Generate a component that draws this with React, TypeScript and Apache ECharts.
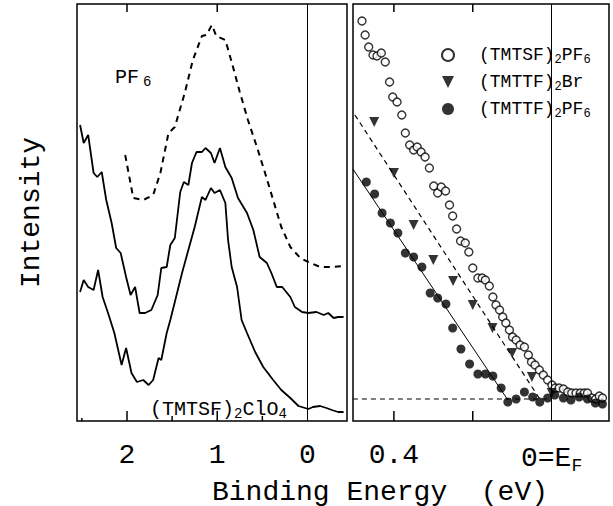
import React, { useEffect, useRef } from "react";
import * as echarts from "echarts";

const FONT = '"Liberation Mono", "DejaVu Sans Mono", monospace';

// ---- Left panel: wide-range spectra (binding energy in eV, intensity in arb. units)
const pf6DashedE = [2.02, 1.93, 1.82, 1.71, 1.63, 1.54, 1.47, 1.36, 1.27, 1.17, 1.12, 1.06, 1.01, 0.91, 0.84, 0.75, 0.66, 0.56, 0.47, 0.38, 0.29, 0.19, 0.08, -0.01, -0.14, -0.25, -0.4];
const pf6DashedI = [266, 223, 221, 226, 248, 288, 294, 328, 361, 385, 386, 396, 385, 381, 359, 329, 301, 274, 248, 221, 194, 174, 163, 159, 154, 154, 155];

const upperSolidE = [2.52, 2.48, 2.43, 2.37, 2.33, 2.28, 2.23, 2.17, 2.12, 2.07, 2.01, 1.96, 1.91, 1.86, 1.8, 1.73, 1.66, 1.62, 1.56, 1.52, 1.47, 1.41, 1.37, 1.32, 1.28, 1.23, 1.17, 1.13, 1.07, 1.03, 0.97, 0.91, 0.84, 0.77, 0.67, 0.6, 0.53, 0.45, 0.4, 0.34, 0.28, 0.19, 0.14, 0.06, -0.01, -0.1, -0.18, -0.23, -0.29, -0.34, -0.4];
const upperSolidI = [296, 278, 286, 248, 244, 249, 221, 198, 173, 168, 144, 126, 134, 108, 108, 111, 126, 153, 154, 176, 183, 229, 239, 236, 258, 269, 269, 273, 268, 258, 273, 254, 243, 223, 208, 191, 164, 158, 148, 134, 134, 124, 114, 109, 108, 109, 106, 108, 103, 104, 104];

const clo4E = [2.52, 2.48, 2.43, 2.37, 2.32, 2.27, 2.21, 2.14, 2.06, 2.01, 1.95, 1.89, 1.82, 1.76, 1.71, 1.65, 1.62, 1.56, 1.52, 1.47, 1.39, 1.32, 1.25, 1.17, 1.13, 1.07, 1.03, 0.97, 0.91, 0.88, 0.84, 0.78, 0.73, 0.67, 0.58, 0.49, 0.38, 0.29, 0.19, 0.1, -0.01, -0.06, -0.14, -0.21, -0.27, -0.34, -0.4];
const clo4I = [129, 141, 134, 131, 151, 124, 108, 88, 56, 73, 48, 39, 41, 36, 41, 63, 61, 88, 101, 119, 148, 171, 194, 224, 221, 233, 228, 231, 218, 181, 154, 134, 101, 88, 69, 54, 41, 31, 23, 15, 12, 14, 15, 13, 11, 9, 9];

// ---- Right panel: near-E_F region
const tmtsfPF6E = [0.481, 0.473, 0.464, 0.453, 0.443, 0.432, 0.422, 0.411, 0.403, 0.392, 0.38, 0.371, 0.36, 0.35, 0.341, 0.331, 0.321, 0.31, 0.299, 0.289, 0.28, 0.269, 0.259, 0.251, 0.241, 0.231, 0.219, 0.21, 0.2, 0.187, 0.176, 0.168, 0.158, 0.149, 0.141, 0.132, 0.124, 0.116, 0.107, 0.099, 0.09, 0.08, 0.069, 0.059, 0.051, 0.042, 0.031, 0.021, 0.01, -0.001, -0.009, -0.019, -0.03, -0.041, -0.051, -0.062, -0.073, -0.083, -0.091, -0.102, -0.112, -0.121, -0.129];
const tmtsfPF6I = [400, 386, 374, 366, 365, 368, 359, 339, 324, 319, 306, 288, 276, 271, 274, 269, 264, 253, 235, 228, 234, 230, 216, 205, 192, 180, 178, 169, 153, 143, 143, 141, 135, 124, 116, 111, 104, 98, 91, 84, 81, 76, 74, 66, 59, 56, 51, 46, 41, 36, 33, 33, 32, 29, 28, 28, 28, 28, 28, 23, 22, 25, 23];

const tmttfBrE = [0.45, 0.4, 0.35, 0.3, 0.25, 0.2, 0.15, 0.1, 0.05, 0.0];
const tmttfBrI = [299, 248, 196, 161, 140, 116, 93, 68, 44, 28];

const tmttfPF6E = [0.47, 0.449, 0.43, 0.409, 0.39, 0.371, 0.35, 0.329, 0.308, 0.289, 0.268, 0.251, 0.23, 0.208, 0.187, 0.168, 0.149, 0.128, 0.111, 0.09, 0.069, 0.048, 0.03, 0.01, -0.008, -0.03, -0.049, -0.07, -0.091, -0.111, -0.129];
const tmttfPF6I = [239, 227, 208, 198, 188, 168, 164, 154, 128, 123, 117, 93, 72, 57, 47, 47, 45, 33, 19, 22, 29, 24, 19, 23, 26, 23, 21, 24, 22, 18, 17];

const solidFitE = [0.504, 0.111];
const solidFitI = [252, 21];
const dashFitE = [0.499, 0.03];
const dashFitI = [306, 22];
const baselineE = [0.504, 0.006];
const baselineI = [22, 22];

// tick positions (eV); tick lengths in intensity units
const leftMajorTicks = [2, 1];
const leftMinorTicks = [1.5, 0.5];
const leftEdgeTicks = [2.5];
const leftTopTicks = [2, 1];
const rightTicks = [0.4, 0.2];
const leftLabels = [2, 1, 0];
const rightLabels = [0.4, 0];
const Y_MAX = 417;

const legendNames = ["(TMTSF)2PF6", "(TMTTF)2Br", "(TMTTF)2PF6"];
const legendRich: Record<string, string> = {
  "(TMTSF)2PF6": "(TMTSF){s|2}PF{s|6}",
  "(TMTTF)2Br": "(TMTTF){s|2}Br",
  "(TMTTF)2PF6": "(TMTTF){s|2}PF{s|6}",
};

const zip = (xs: number[], ys: number[]) => xs.map((x, i) => [x, ys[i]]);
const tickRows = (vals: number[], y0: number, y1: number) => vals.map((v) => [v, y0, y1]);

const tickSeries = (xAxisIndex: number, yAxisIndex: number, data: number[][]) => ({
  type: "custom",
  xAxisIndex,
  yAxisIndex,
  silent: true,
  clip: false,
  z: 5,
  encode: { x: 0, y: 1 },
  data,
  renderItem: (_params: any, api: any) => {
    const p0 = api.coord([api.value(0), api.value(1)]);
    const p1 = api.coord([api.value(0), api.value(2)]);
    return {
      type: "line",
      shape: { x1: p0[0], y1: p0[1], x2: p1[0], y2: p1[1] },
      style: { stroke: "#000", lineWidth: 1.5 },
    };
  },
});

export default function App() {
  const ref = useRef<HTMLDivElement>(null);
  useEffect(() => {
    const chart = echarts.init(ref.current!, null, { renderer: "svg" });
    const black = "#000";
    const leftRange = { min: -0.438, max: 2.554 };
    const rightRange = { min: -0.1456, max: 0.5038 };
    const baseX = {
      type: "value" as const,
      inverse: true,
      axisLine: { show: false },
      axisTick: { show: false },
      splitLine: { show: false },
    };
    const vline = {
      silent: true, symbol: ["none", "none"], label: { show: false },
      lineStyle: { color: black, width: 1, type: "solid" },
    };
    const option: any = {
      animation: false,
      backgroundColor: "#fff",
      grid: [
        { left: 77, top: 4, width: 270, height: 417, show: true, borderColor: black, borderWidth: 1.5, backgroundColor: "transparent" },
        { left: 353, top: 4, width: 256, height: 417, show: true, borderColor: black, borderWidth: 1.5, backgroundColor: "transparent" },
      ],
      xAxis: [
        {
          ...baseX, ...leftRange, gridIndex: 0, position: "bottom",
          axisLabel: { customValues: leftLabels, fontFamily: FONT, fontSize: 28, color: black, margin: 20 },
        },
        {
          ...baseX, ...rightRange, gridIndex: 1, position: "bottom",
          axisLabel: {
            customValues: rightLabels, fontFamily: FONT, fontSize: 28, color: black, margin: 20,
            formatter: (v: number) => (v === 0 ? "{m|0=E}{s|F}" : "{m|0.4}"),
            rich: {
              m: { fontFamily: FONT, fontSize: 28, color: black },
              s: { fontFamily: FONT, fontSize: 18, color: black, padding: [16, 0, 0, 0] },
            },
          },
        },
      ],
      yAxis: [
        {
          type: "value", gridIndex: 0, min: 0, max: Y_MAX,
          axisLine: { show: false }, axisTick: { show: false }, axisLabel: { show: false }, splitLine: { show: false },
          name: "Intensity", nameLocation: "middle", nameRotate: 90, nameGap: 32,
          nameTextStyle: { fontFamily: FONT, fontSize: 28, color: black },
        },
        {
          type: "value", gridIndex: 1, min: 0, max: Y_MAX,
          axisLine: { show: false }, axisTick: { show: false }, axisLabel: { show: false }, splitLine: { show: false },
        },
      ],
      legend: {
        data: legendNames,
        orient: "vertical",
        left: 436,
        top: 41,
        itemWidth: 12,
        itemHeight: 12,
        itemGap: 7,
        selectedMode: false,
        formatter: (name: string) => legendRich[name],
        textStyle: {
          fontFamily: FONT, fontSize: 18, color: black, padding: [0, 0, 0, 20],
          rich: { s: { fontFamily: FONT, fontSize: 12, color: black, padding: [10, 0, 0, 0] } },
        },
      },
      series: [
        {
          name: "PF6 dashed", type: "line", xAxisIndex: 0, yAxisIndex: 0, data: zip(pf6DashedE, pf6DashedI),
          symbol: "none", lineStyle: { color: black, width: 2, type: [6, 5] },
        },
        {
          name: "upper solid", type: "line", xAxisIndex: 0, yAxisIndex: 0, data: zip(upperSolidE, upperSolidI),
          symbol: "none", lineStyle: { color: black, width: 1.8 },
          markLine: { ...vline, data: [{ xAxis: 0 }] },
        },
        {
          name: "(TMTSF)2ClO4", type: "line", xAxisIndex: 0, yAxisIndex: 0, data: zip(clo4E, clo4I),
          symbol: "none", lineStyle: { color: black, width: 1.8 },
        },
        tickSeries(0, 0, [
          ...tickRows(leftMajorTicks, 0, 10),
          ...tickRows(leftMinorTicks, 0, 5),
          ...tickRows(leftEdgeTicks, 0, 3),
          ...tickRows(leftTopTicks, Y_MAX, Y_MAX - 8),
        ]),
        {
          name: "baseline", type: "line", xAxisIndex: 1, yAxisIndex: 1, data: zip(baselineE, baselineI),
          symbol: "none", lineStyle: { color: black, width: 1.2, type: [5, 4] },
          markLine: { ...vline, data: [{ xAxis: 0 }] },
        },
        {
          name: "solid fit", type: "line", xAxisIndex: 1, yAxisIndex: 1, data: zip(solidFitE, solidFitI),
          symbol: "none", lineStyle: { color: black, width: 1 },
        },
        {
          name: "dashed fit", type: "line", xAxisIndex: 1, yAxisIndex: 1, data: zip(dashFitE, dashFitI),
          symbol: "none", lineStyle: { color: black, width: 1.2, type: [5, 4] },
        },
        tickSeries(1, 1, [...tickRows(rightTicks, 0, 10), ...tickRows(rightTicks, Y_MAX, Y_MAX - 8)]),
        {
          name: "(TMTSF)2PF6", type: "scatter", xAxisIndex: 1, yAxisIndex: 1, data: zip(tmtsfPF6E, tmtsfPF6I),
          symbol: "circle", symbolSize: 8, itemStyle: { color: "#fff", borderColor: black, borderWidth: 1.4 },
        },
        {
          name: "(TMTTF)2Br", type: "scatter", xAxisIndex: 1, yAxisIndex: 1, data: zip(tmttfBrE, tmttfBrI),
          symbol: "path://M0,0 L10,0 L5,10 Z", symbolSize: [10, 10], itemStyle: { color: black },
        },
        {
          name: "(TMTTF)2PF6", type: "scatter", xAxisIndex: 1, yAxisIndex: 1, data: zip(tmttfPF6E, tmttfPF6I),
          symbol: "circle", symbolSize: 9, itemStyle: { color: black },
        },
      ],
      graphic: [
        {
          type: "text", left: 115, top: 67,
          style: {
            text: "PF{s|6}", fontFamily: FONT, fontSize: 20, fill: black,
            rich: { s: { fontFamily: FONT, fontSize: 14, fill: black, padding: [10, 0, 0, 4] } },
          },
        },
        {
          type: "text", left: 150, top: 399,
          style: {
            text: "(TMTSF){s|2}ClO{s|4}", fontFamily: FONT, fontSize: 20, fill: black,
            rich: { s: { fontFamily: FONT, fontSize: 14, fill: black, padding: [10, 0, 0, 0] } },
          },
        },
        {
          type: "text", x: 380, y: 492,
          style: {
            text: "Binding Energy  (eV)", fontFamily: FONT, fontSize: 28, fill: black,
            align: "center", verticalAlign: "middle",
          },
        },
      ],
    };
    chart.setOption(option);
    return () => chart.dispose();
  }, []);
  return <div ref={ref} style={{ position: "absolute", left: 0, top: 0, width: 613, height: 506 }} />;
}
